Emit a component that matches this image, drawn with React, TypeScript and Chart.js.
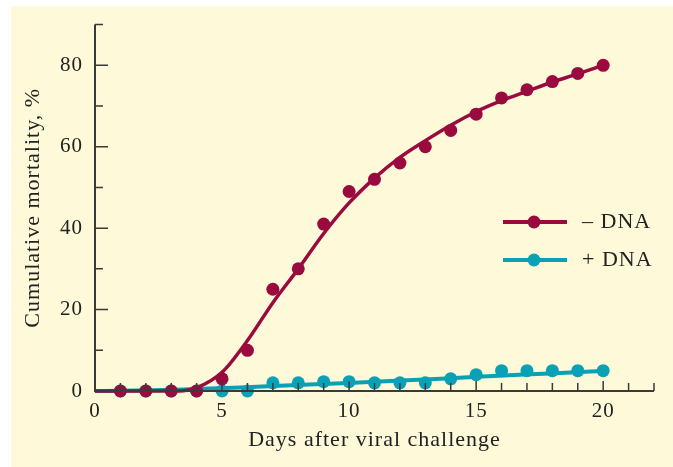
import React, { useEffect, useRef } from 'react';
import { Chart, registerables } from 'chart.js';

Chart.register(...registerables);

// Observed data (days after viral challenge)
const days = [1, 2, 3, 4, 5, 6, 7, 8, 9, 10, 11, 12, 13, 14, 15, 16, 17, 18, 19, 20];
const minusDNA = [0, 0, 0, 0, 3, 10, 25, 30, 41, 49, 52, 56, 60, 64, 68, 72, 74, 76, 78, 80];
const plusDNA = [0, 0, 0, 0, 0, 0, 2, 2, 2.3, 2.3, 2, 2, 2, 3, 4, 5, 5, 5, 5, 5];

// Fitted curves
const minusFitX = [0, 3.3, 4, 5, 6, 7, 8, 9, 10, 11, 12, 13, 14, 15, 16, 17, 18, 19, 20];
const minusFitY = [0, 0, 0.8, 4.6, 12.4, 21.7, 30, 38.7, 46.2, 52.3, 57.4, 61.5, 65.3, 68.6, 71.3, 73.6, 75.9, 77.9, 80];
const plusFitX = [0, 3, 20];
const plusFitY = [0, 0.3, 4.9];

const xLabelTicks = [0, 5, 10, 15, 20];
const yLabelTicks = [0, 20, 40, 60, 80];
const xMinorTicks = [1, 2, 3, 4, 6, 7, 8, 9, 11, 12, 13, 14, 16, 17, 18, 19, 21, 22];
const yMinorTicks = [10, 30, 50, 70, 90];

const legendLabels = ['\u2013 DNA', '+ DNA'];

const RED = '#9a0a3f';
const TEAL = '#0aa0b6';
const CREAM = '#fdf9d9';
const AXIS = '#3a3a3a';
const FONT = '"Liberation Serif", "DejaVu Serif", serif';

const pairs = (xs: number[], ys: number[]) => xs.map((x, i) => ({ x, y: ys[i] }));

const decorPlugin = {
  id: 'decor',
  beforeDraw(chart: any) {
    const { ctx, width, height } = chart;
    ctx.fillStyle = '#ffffff';
    ctx.fillRect(0, 0, width, height);
    ctx.fillStyle = CREAM;
    ctx.fillRect(11, 6, width - 11, height - 6);
    (ctx as any).letterSpacing = '1px';
  },
  afterDraw(chart: any) {
    const { ctx, scales } = chart;
    const xs = scales.x;
    const ys = scales.y;
    const x0 = xs.getPixelForValue(0);
    const y0 = ys.getPixelForValue(0);
    ctx.save();
    ctx.strokeStyle = AXIS;
    ctx.lineWidth = 2;
    ctx.beginPath();
    ctx.moveTo(x0, ys.getPixelForValue(90));
    ctx.lineTo(x0, y0);
    ctx.lineTo(xs.getPixelForValue(22), y0);
    ctx.stroke();
    ctx.lineWidth = 1.5;
    ctx.beginPath();
    yLabelTicks.forEach((v) => {
      const p = ys.getPixelForValue(v);
      ctx.moveTo(x0, p);
      ctx.lineTo(x0 + 13, p);
    });
    yMinorTicks.forEach((v) => {
      const p = ys.getPixelForValue(v);
      ctx.moveTo(x0, p);
      ctx.lineTo(x0 + 8, p);
    });
    xLabelTicks.forEach((v) => {
      const p = xs.getPixelForValue(v);
      ctx.moveTo(p, y0);
      ctx.lineTo(p, y0 - 10);
    });
    xMinorTicks.forEach((v) => {
      const p = xs.getPixelForValue(v);
      ctx.moveTo(p, y0);
      ctx.lineTo(p, y0 - 8);
    });
    ctx.stroke();
    ctx.restore();
  },
  afterDatasetsDraw(chart: any) {
    const { ctx } = chart;
    const colors = [RED, TEAL];
    const rows = [222, 260];
    ctx.save();
    rows.forEach((y, i) => {
      ctx.strokeStyle = colors[i];
      ctx.lineWidth = 4;
      ctx.beginPath();
      ctx.moveTo(503, y);
      ctx.lineTo(567, y);
      ctx.stroke();
      ctx.fillStyle = colors[i];
      ctx.beginPath();
      ctx.arc(534, y, 6.5, 0, Math.PI * 2);
      ctx.fill();
      ctx.fillStyle = '#222222';
      ctx.font = `22px ${FONT}`;
      ctx.textBaseline = 'middle';
      ctx.textAlign = 'left';
      ctx.fillText(legendLabels[i], 582, y);
    });
    ctx.restore();
  },
};

export default function App() {
  const ref = useRef<HTMLCanvasElement>(null);
  useEffect(() => {
    document.body.style.margin = '0';
    const canvas = ref.current;
    if (!canvas) return;
    const chart = new Chart(canvas, {
      type: 'scatter',
      data: {
        datasets: [
          {
            label: legendLabels[0],
            data: pairs(days, minusDNA),
            showLine: false,
            pointRadius: 6.5,
            pointBackgroundColor: RED,
            pointBorderWidth: 0,
            borderColor: RED,
            clip: false,
          } as any,
          {
            label: legendLabels[0] + ' fit',
            data: pairs(minusFitX, minusFitY),
            showLine: true,
            pointRadius: 0,
            borderColor: RED,
            borderWidth: 3.5,
            cubicInterpolationMode: 'monotone',
            clip: false,
          },
          {
            label: legendLabels[1],
            data: pairs(days, plusDNA),
            showLine: false,
            pointRadius: 6.5,
            pointBackgroundColor: TEAL,
            pointBorderWidth: 0,
            borderColor: TEAL,
            clip: false,
          },
          {
            label: legendLabels[1] + ' fit',
            data: pairs(plusFitX, plusFitY),
            showLine: true,
            pointRadius: 0,
            borderColor: TEAL,
            borderWidth: 4,
            cubicInterpolationMode: 'monotone',
            clip: false,
          },
        ],
      },
      options: {
        animation: false,
        responsive: false,
        events: [],
        layout: { padding: { left: 0, top: 22, right: 19, bottom: 0 } },
        plugins: { legend: { display: false }, tooltip: { enabled: false } },
        scales: {
          x: {
            type: 'linear',
            min: 0,
            max: 22,
            grid: { display: false, drawTicks: false },
            border: { display: false },
            afterBuildTicks: (s: any) => {
              s.ticks = xLabelTicks.map((v) => ({ value: v }));
            },
            afterFit: (s: any) => {
              s.height = 76;
            },
            ticks: {
              padding: 8,
              color: '#222222',
              font: { family: FONT, size: 21 },
              maxRotation: 0,
              autoSkip: false,
            },
            title: {
              display: true,
              text: 'Days after viral challenge',
              color: '#222222',
              font: { family: FONT, size: 22 },
              padding: { top: 0, bottom: 14 },
            },
          },
          y: {
            type: 'linear',
            min: 0,
            max: 90,
            grid: { display: false, drawTicks: false },
            border: { display: false },
            afterBuildTicks: (s: any) => {
              s.ticks = yLabelTicks.map((v) => ({ value: v }));
            },
            afterFit: (s: any) => {
              s.width = 95;
            },
            ticks: {
              padding: 12,
              color: '#222222',
              font: { family: FONT, size: 21 },
              autoSkip: false,
            },
            title: {
              display: true,
              text: 'Cumulative mortality, %',
              color: '#222222',
              font: { family: FONT, size: 22 },
              padding: { top: 20, bottom: 0 },
            },
          },
        },
      },
      plugins: [decorPlugin],
    });
    return () => chart.destroy();
  }, []);
  return (
    <div style={{ width: 673, height: 467 }}>
      <canvas ref={ref} width={673} height={467} style={{ display: 'block' }} />
    </div>
  );
}
